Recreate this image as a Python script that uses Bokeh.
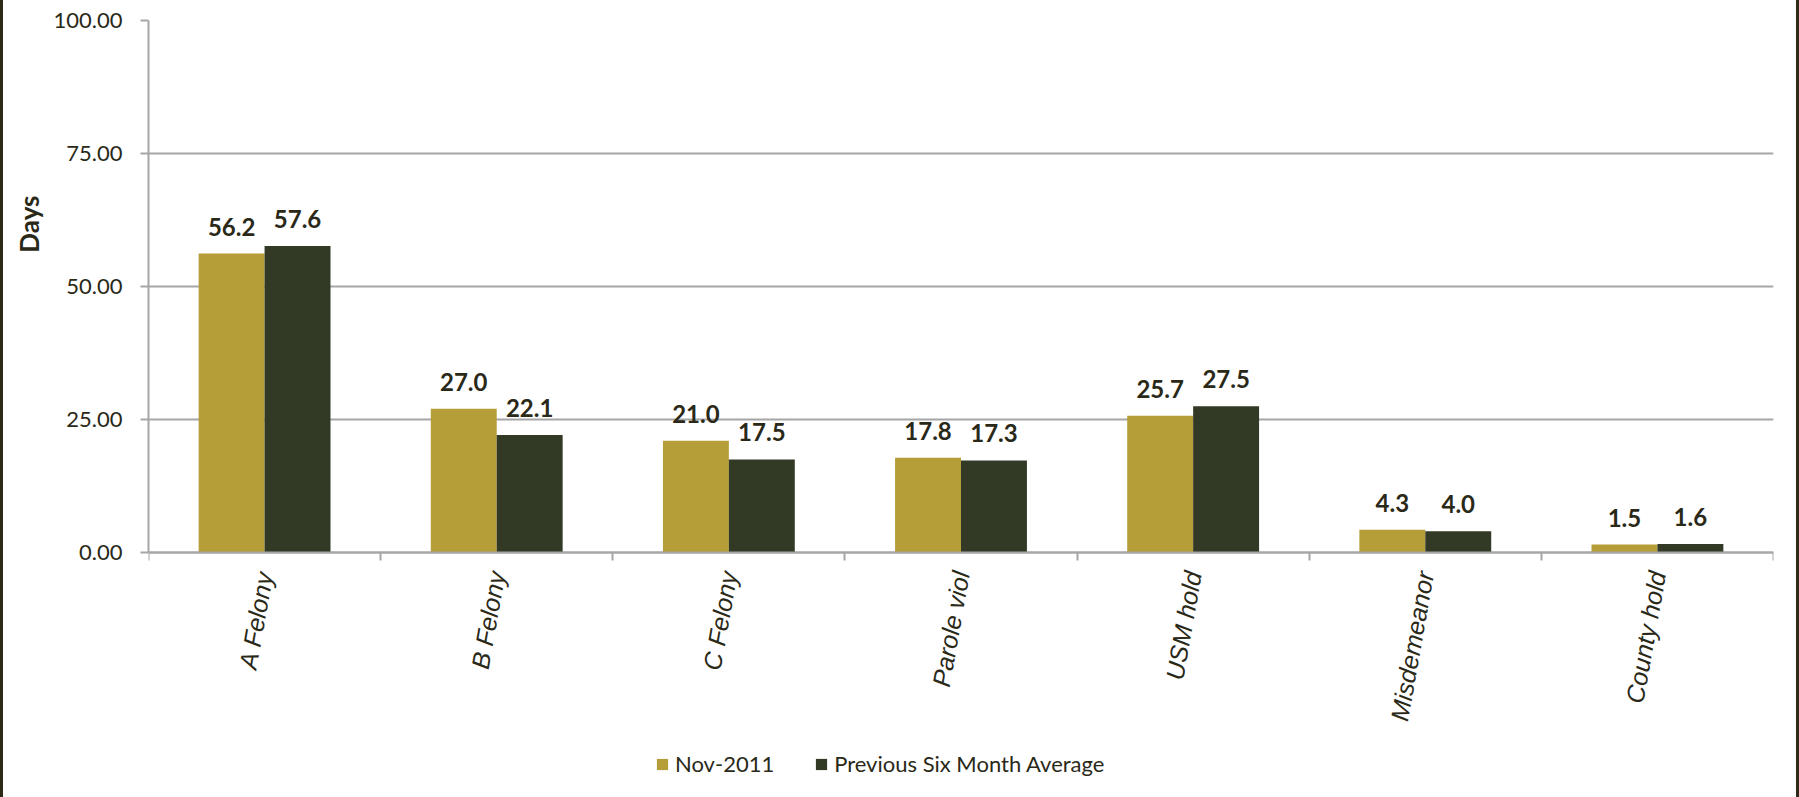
import math
from bokeh.plotting import figure
from bokeh.models import (Range1d, LinearAxis, FixedTicker, Legend, LegendItem,
                          ColumnDataSource, NumeralTickFormatter, Grid, Title)
from bokeh.transform import dodge
from bokeh.core.properties import value
from bokeh.embed import file_html
from bokeh.resources import INLINE

categories = ["A Felony", "B Felony", "C Felony", "Parole viol", "USM hold", "Misdemeanor", "County hold"]
nov_2011 = [56.2, 27.0, 21.0, 17.8, 25.7, 4.3, 1.5]
prev_six_month_avg = [57.6, 22.1, 17.5, 17.3, 27.5, 4.0, 1.6]
series_names = ["Nov-2011", "Previous Six Month Average"]
y_ticks = [0, 25, 50, 75, 100]
y_label = "Days"

GOLD = "#B59D37"
DARK = "#323A26"
TEXT = "#2A2918"
GRID = "#A6A6A6"
FONT = "Lato"

n = len(categories)
centers = [i + 0.5 for i in range(n)]          # category slot centres on a 0..n axis
boundaries = list(range(n + 1))                 # category slot edges

src = ColumnDataSource(dict(
    pos=centers, nov=nov_2011, prev=prev_six_month_avg,
    nov_lbl=[f"{v:.1f}" for v in nov_2011],
    prev_lbl=[f"{v:.1f}" for v in prev_six_month_avg],
))

# The frame reaches down to the bottom of the window so that the category labels
# and the legend live inside it; the value axis runs 0..100 in its upper part.
p = figure(x_range=Range1d(0, n), y_range=Range1d(-46.05, 100),
           frame_width=1625, frame_height=777,
           min_border_left=145, min_border_top=20, min_border_right=23, min_border_bottom=10,
           output_backend="svg", toolbar_location=None,
           x_axis_location=None, y_axis_location=None)
p.center = [c for c in p.center if not isinstance(c, Grid)]
p.outline_line_color = None
p.background_fill_color = "white"
p.border_fill_color = "white"
p.styles = {"border-left": "3px solid #2E2A18", "border-right": "3px solid #2E2A18"}

# y axis (only over the 0..100 span)
yaxis = LinearAxis(ticker=FixedTicker(ticks=y_ticks), formatter=NumeralTickFormatter(format="0.00"),
                   bounds=(y_ticks[0], y_ticks[-1]))
yaxis.axis_line_color = GRID
yaxis.axis_line_width = 2
yaxis.major_tick_line_color = GRID
yaxis.major_tick_line_width = 2
yaxis.major_tick_in = 0
yaxis.major_tick_out = 8
yaxis.minor_tick_line_color = None
yaxis.major_label_standoff = 18
yaxis.major_label_text_font = FONT
yaxis.major_label_text_font_size = "22px"
yaxis.major_label_text_color = TEXT
p.add_layout(yaxis, "left")

# y-axis title, near the upper middle of the value span as in the reference
ytitle = Title(text=y_label, align="right", offset=175, standoff=12,
               text_font=FONT, text_font_style="bold", text_font_size="26px", text_color=TEXT)
p.add_layout(ytitle, "left")

grid = Grid(dimension=1, ticker=FixedTicker(ticks=y_ticks), grid_line_color=GRID, grid_line_width=2)
p.add_layout(grid)

# category axis pinned at value 0: labels at slot centres, tick marks at slot edges
xaxis = LinearAxis(ticker=FixedTicker(ticks=centers, minor_ticks=boundaries),
                   major_label_overrides={c: name for c, name in zip(centers, categories)},
                   fixed_location=0)
xaxis.axis_line_color = GRID
xaxis.axis_line_width = 2
xaxis.major_tick_line_color = None
xaxis.major_tick_in = 0
xaxis.major_tick_out = 0
xaxis.minor_tick_line_color = GRID
xaxis.minor_tick_line_width = 2
xaxis.minor_tick_in = 0
xaxis.minor_tick_out = 8
xaxis.major_label_orientation = math.radians(80)
xaxis.major_label_standoff = 11
xaxis.major_label_text_font = "Liberation Sans"
xaxis.major_label_text_font_style = "italic"
xaxis.major_label_text_font_size = "25px"
xaxis.major_label_text_color = TEXT
p.add_layout(xaxis, "below")

# bars
r1 = p.vbar(x=dodge("pos", -0.142), top="nov", width=0.284, source=src,
            fill_color=GOLD, line_color=None)
r2 = p.vbar(x=dodge("pos", 0.142), top="prev", width=0.284, source=src,
            fill_color=DARK, line_color=None)

for xoff, col, lbl in [(-0.142, "nov", "nov_lbl"), (0.142, "prev", "prev_lbl")]:
    p.text(x=dodge("pos", xoff), y=col, text=lbl, source=src,
           text_align="center", text_baseline="bottom", y_offset=-18,
           text_font=value(FONT), text_font_style="bold", text_font_size="24px",
           text_color=TEXT)

legend = Legend(items=[LegendItem(label=series_names[0], renderers=[r1]),
                       LegendItem(label=series_names[1], renderers=[r2])],
                orientation="horizontal", location=(507, 20),
                glyph_width=14, glyph_height=14, label_standoff=6, spacing=40,
                padding=2, margin=0, border_line_color=None, background_fill_alpha=0,
                label_text_font=FONT, label_text_font_size="22px", label_text_color=TEXT)
p.add_layout(legend, "center")

open("out.html", "w").write(file_html(p, INLINE))
